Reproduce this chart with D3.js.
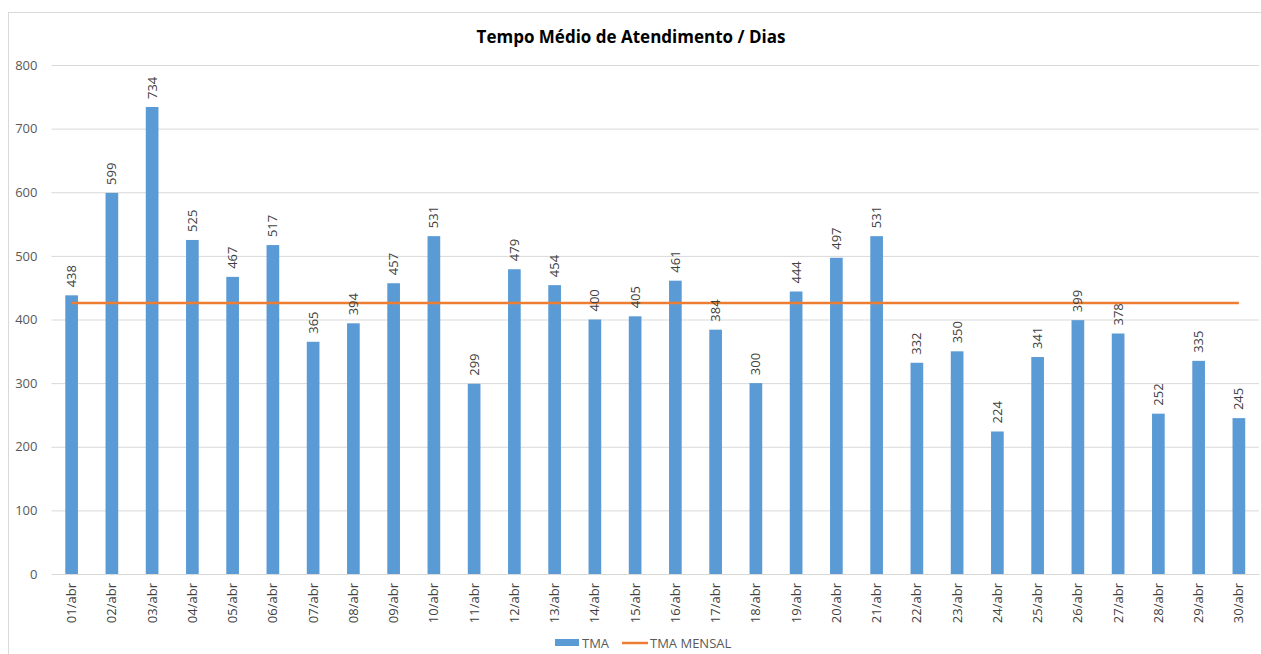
<!DOCTYPE html>
<html>
<head>
<meta charset="utf-8">
<script src="https://cdn.jsdelivr.net/npm/d3@7"></script>
<style>
  body { margin: 0; background: #fff; }
  svg { display: block; font-family: "Open Sans", sans-serif; }
</style>
</head>
<body>
<div id="chart"></div>
<script>
const days = ['01/abr','02/abr','03/abr','04/abr','05/abr','06/abr','07/abr','08/abr','09/abr','10/abr',
  '11/abr','12/abr','13/abr','14/abr','15/abr','16/abr','17/abr','18/abr','19/abr','20/abr',
  '21/abr','22/abr','23/abr','24/abr','25/abr','26/abr','27/abr','28/abr','29/abr','30/abr'];
const tma = [438, 599, 734, 525, 467, 517, 365, 394, 457, 531,
  299, 479, 454, 400, 405, 461, 384, 300, 444, 497,
  531, 332, 350, 224, 341, 399, 378, 252, 335, 245];
const tmaMensal = [426, 426, 426, 426, 426, 426, 426, 426, 426, 426,
  426, 426, 426, 426, 426, 426, 426, 426, 426, 426,
  426, 426, 426, 426, 426, 426, 426, 426, 426, 426];
const yTicks = [0, 100, 200, 300, 400, 500, 600, 700, 800];

const W = 1261, H = 654;
const margin = { top: 65, right: 2, bottom: 80, left: 51.5 };
const width = W - margin.left - margin.right;
const height = H - margin.top - margin.bottom;

const svg = d3.select('#chart').append('svg')
  .attr('width', W).attr('height', H);

// outer frame
svg.append('rect')
  .attr('x', 8.5).attr('y', 12.5)
  .attr('width', 1270).attr('height', 660)
  .attr('fill', 'none').attr('stroke', '#d9d9d9');

svg.append('text')
  .attr('x', 631).attr('y', 43)
  .attr('text-anchor', 'middle')
  .style('font-size', '17px').style('font-weight', 'bold')
  .style('fill', '#000')
  .text('Tempo Médio de Atendimento / Dias');

const g = svg.append('g').attr('transform', `translate(${margin.left},${margin.top})`);

const x = d3.scaleBand().domain(days).range([0, width])
  .paddingInner(0.685).paddingOuter(0.3425);
const y = d3.scaleLinear().domain([0, 800]).range([height, 0]);

// grid
g.append('g')
  .call(d3.axisLeft(y).tickValues(yTicks).tickSize(-width).tickFormat(''))
  .call(a => a.select('.domain').remove())
  .selectAll('line').attr('stroke', '#d9d9d9');

// y labels
g.append('g')
  .call(d3.axisLeft(y).tickValues(yTicks).tickSize(0).tickPadding(14))
  .call(a => a.select('.domain').remove())
  .selectAll('text')
  .style('font-size', '13px').style('fill', '#595959').style('font-family', '"Open Sans", sans-serif');

// bars
g.selectAll('.bar')
  .data(days)
  .enter().append('rect')
  .attr('class', 'bar')
  .attr('x', d => x(d))
  .attr('width', x.bandwidth())
  .attr('y', (d, i) => y(tma[i]))
  .attr('height', (d, i) => height - y(tma[i]))
  .attr('fill', '#5b9bd5');

// x axis
const xa = g.append('g')
  .attr('transform', `translate(0,${height})`)
  .call(d3.axisBottom(x).tickSize(0).tickPadding(0));
xa.select('.domain').attr('stroke', '#d9d9d9');
xa.selectAll('text')
  .attr('transform', 'rotate(-90)')
  .attr('x', -9).attr('y', 0).attr('dy', '0.35em')
  .style('text-anchor', 'end')
  .style('font-size', '13px').style('fill', '#404040').style('font-family', '"Open Sans", sans-serif');

// monthly line
const line = d3.line()
  .x((d, i) => x(days[i]) + x.bandwidth() / 2)
  .y(d => y(d));
g.append('path')
  .datum(tmaMensal)
  .attr('d', line)
  .attr('fill', 'none')
  .attr('stroke', '#ed7d31')
  .attr('stroke-width', 2.5);

// data labels
g.selectAll('.label')
  .data(days)
  .enter().append('text')
  .attr('class', 'label')
  .attr('transform', (d, i) => `translate(${x(d) + x.bandwidth() / 2},${y(tma[i]) - 8}) rotate(-90)`)
  .attr('dy', '0.35em')
  .style('text-anchor', 'start')
  .style('font-size', '13px').style('fill', '#404040')
  .text((d, i) => tma[i]);

// legend
const lg = svg.append('g');
lg.append('rect').attr('x', 555).attr('y', 639).attr('width', 24).attr('height', 7).attr('fill', '#5b9bd5');
lg.append('text').attr('x', 582).attr('y', 643).attr('dy', '0.35em')
  .style('font-size', '13px').style('fill', '#595959').text('TMA');
lg.append('line').attr('x1', 622).attr('x2', 648).attr('y1', 643).attr('y2', 643)
  .attr('stroke', '#ed7d31').attr('stroke-width', 2.5);
lg.append('text').attr('x', 650).attr('y', 643).attr('dy', '0.35em')
  .style('font-size', '13px').style('fill', '#595959').text('TMA MENSAL');
</script>
</body>
</html>
